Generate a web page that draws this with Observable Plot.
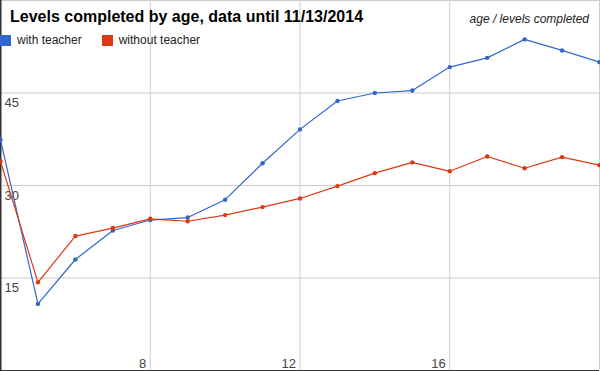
<!DOCTYPE html>
<html>
<head>
<meta charset="utf-8">
<script src="https://cdn.jsdelivr.net/npm/d3@7"></script>
<script src="https://cdn.jsdelivr.net/npm/@observablehq/plot@0.6"></script>
<style>
  html, body { margin: 0; padding: 0; background: #fff; }
  body { width: 600px; height: 371px; overflow: hidden; position: relative; font-family: "Liberation Sans", Arial, sans-serif; }
  #chart { position: absolute; left: 0; top: 0; }
  .title { position: absolute; left: 10px; top: 8px; font-size: 16px; font-weight: bold; color: #000; white-space: nowrap; }
  .subtitle { position: absolute; right: 11px; top: 12px; font-size: 12px; font-style: italic; color: #222; white-space: nowrap; }
  .legend { position: absolute; left: 0; top: 33px; font-size: 12px; color: #222; white-space: nowrap; display: flex; align-items: center; }
  .legend .sw { display: inline-block; width: 11px; height: 11px; margin-right: 6px; }
  .legend .item { display: flex; align-items: center; margin-right: 20px; }
</style>
</head>
<body>
<div id="chart"></div>
<div class="title" id="title"></div>
<div class="subtitle" id="subtitle"></div>
<div class="legend" id="legend"></div>
<script>
const titleText = "Levels completed by age, data until 11/13/2014";
const subtitleText = "age / levels completed";
const seriesNames = ["with teacher", "without teacher"];
const seriesColors = ["#3366cc", "#dc3912"];
const ages = [4, 5, 6, 7, 8, 9, 10, 11, 12, 13, 14, 15, 16, 17, 18, 19, 20];
const withTeacher = [37.4, 10.8, 18.0, 22.7, 24.4, 24.8, 27.7, 33.6, 39.1, 43.7, 45.0, 45.4, 49.2, 50.7, 53.7, 51.9, 50.0];
const withoutTeacher = [33.9, 14.3, 21.8, 23.1, 24.6, 24.2, 25.2, 26.5, 27.9, 29.9, 32.0, 33.75, 32.3, 34.7, 32.8, 34.6, 33.3];
const xTicks = [8, 12, 16];
const xGrid = [8, 12, 16, 20];
const yTicks = [15, 30, 45];
const yGrid = [15, 30, 45, 60];

const data = [];
seriesNames.forEach((name, i) => {
  const vals = i === 0 ? withTeacher : withoutTeacher;
  ages.forEach((a, j) => data.push({series: name, age: a, value: vals[j]}));
});

const colorOf = Object.fromEntries(seriesNames.map((n, i) => [n, seriesColors[i]]));

const chart = Plot.plot({
  width: 600,
  height: 371,
  marginTop: 0,
  marginLeft: 0,
  marginRight: 1,
  marginBottom: 1,
  x: {domain: [4, 20], axis: null},
  y: {domain: [0, 60], axis: null},
  style: {fontFamily: "Liberation Sans, Arial, sans-serif", background: "transparent"},
  marks: [
    Plot.ruleY(yGrid, {stroke: "#cccccc", strokeWidth: 1}),
    Plot.ruleX(xGrid, {stroke: "#cccccc", strokeWidth: 1}),
    Plot.text(yTicks, {y: d => d, frameAnchor: "left", text: d => String(d), textAnchor: "start", lineAnchor: "middle", dx: 4, dy: 10, fontSize: 13, fill: "#444"}),
    Plot.text(xTicks, {x: d => d, frameAnchor: "bottom", text: d => String(d), textAnchor: "end", lineAnchor: "bottom", dx: -4, dy: -3, fontSize: 13, fill: "#444"}),
    Plot.ruleX([4], {stroke: "#333", strokeWidth: 2}),
    Plot.ruleY([0], {stroke: "#333", strokeWidth: 1}),
    Plot.line(data, {x: "age", y: "value", z: "series", stroke: d => colorOf[d.series], strokeWidth: 1.2}),
    Plot.dot(data, {x: "age", y: "value", fill: d => colorOf[d.series], r: 2.2, stroke: "none"})
  ]
});
document.getElementById("chart").appendChild(chart);
document.getElementById("title").textContent = titleText;
document.getElementById("subtitle").textContent = subtitleText;
const leg = document.getElementById("legend");
seriesNames.forEach((n, i) => {
  const item = document.createElement("span");
  item.className = "item";
  const sw = document.createElement("span");
  sw.className = "sw";
  sw.style.background = seriesColors[i];
  item.appendChild(sw);
  item.appendChild(document.createTextNode(n));
  leg.appendChild(item);
});
</script>
</body>
</html>
